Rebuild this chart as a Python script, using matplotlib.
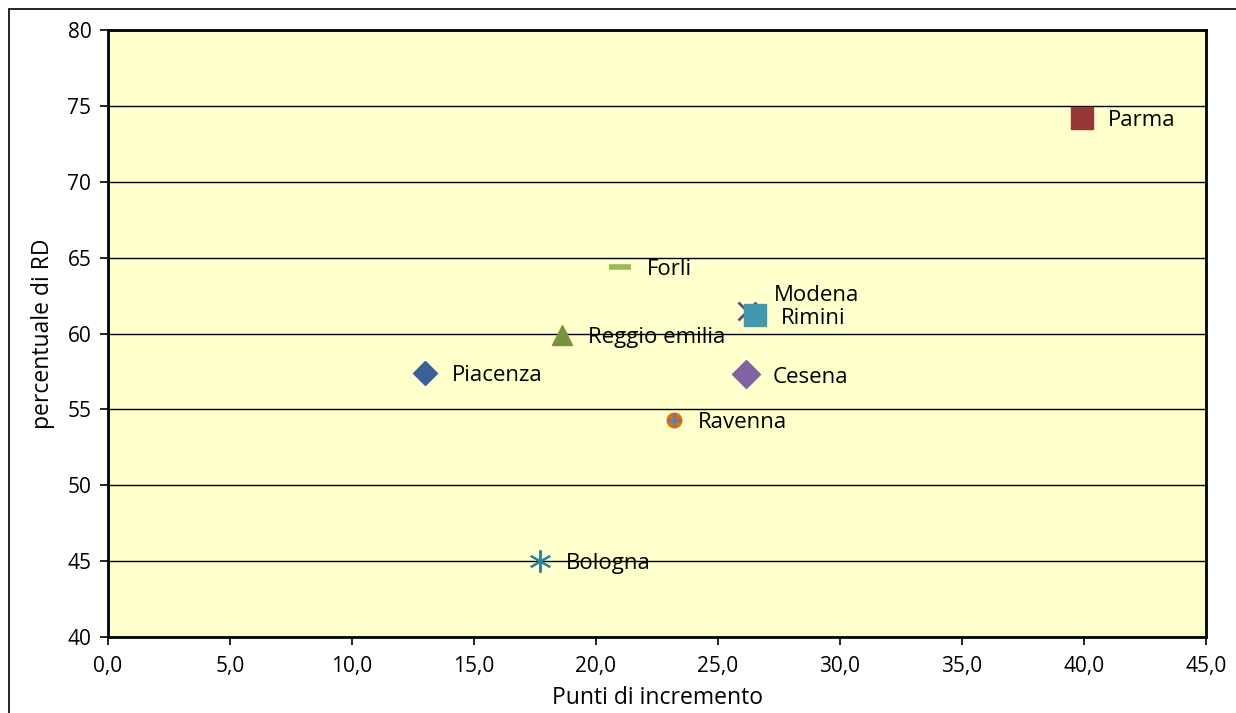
import matplotlib
matplotlib.use("Agg")
from matplotlib import pyplot as plt
from matplotlib.patches import Rectangle
from matplotlib.ticker import FuncFormatter

plt.rcParams['font.family'] = ['Open Sans', 'DejaVu Sans']

# province data
names = ["Piacenza", "Parma", "Reggio emilia", "Modena", "Rimini",
         "Cesena", "Ravenna", "Bologna", "Forli"]
incremento = [13.0, 39.9, 18.6, 26.2, 26.5, 26.15, 23.2, 17.7, 21.0]
perc_rd = [57.4, 74.2, 59.9, 61.5, 61.2, 57.3, 54.3, 45.0, 64.4]

colors = ["#3A6097", "#953735", "#77933C", "#604A7B", "#4198AF",
          "#8064A2", "#E46C0A", "#31859C", "#9BBB59"]
markers = ["D", "s", "^", "x", "s", "D", "o", (6, 2, 0), "_"]
sizes = [12, 16, 14, 13, 16, 14, 10.5, 16, 16]
label_off = [(19, -2), (19, -2), (19, -2), (19, 11), (19, -2),
             (19, -2), (17, -2), (19, -2), (19, -2)]

fig = plt.figure(figsize=(12.36, 7.13), dpi=100)
ax = fig.add_axes([108/1236, 1-637/713, 1098/1236, 607/713])
ax.set_facecolor("#FFFFCC")

for i in range(len(names)):
    m = markers[i]
    if m == "_":
        mew = 4
    elif m == "x":
        mew = 2
    elif isinstance(m, tuple):
        mew = 1.5
    else:
        mew = 1
    ax.plot(incremento[i], perc_rd[i], marker=m, color=colors[i],
            markersize=sizes[i], markeredgewidth=mew,
            markeredgecolor=colors[i], linestyle="none", zorder=3)
    if names[i] == "Ravenna":
        ax.plot(incremento[i], perc_rd[i], marker="+", color="#4F81BD",
                markersize=10, markeredgewidth=1.8, linestyle="none", zorder=4)
    ax.annotate(names[i], (incremento[i], perc_rd[i]), xytext=label_off[i],
                textcoords="offset points", ha="left", va="center",
                fontsize=16, color="black", zorder=5)

ax.set_xlim(0, 45)
ax.set_ylim(40, 80)
ax.set_xticks([0, 5, 10, 15, 20, 25, 30, 35, 40, 45])
ax.set_yticks([40, 45, 50, 55, 60, 65, 70, 75, 80])
ax.xaxis.set_major_formatter(FuncFormatter(lambda v, p: f"{v:.1f}".replace(".", ",")))
ax.grid(axis="y", color="black", linewidth=1)
ax.set_axisbelow(True)
for s in ax.spines.values():
    s.set_linewidth(2)
    s.set_color("black")
ax.tick_params(direction="out", length=6, width=1.2, labelsize=15, pad=6)
ax.tick_params(axis="x", pad=8)

ax.set_xlabel("Punti di incremento", fontsize=16.5, labelpad=6)
ax.set_ylabel("percentuale di RD", fontsize=16.5, labelpad=9)

fig.patches.append(Rectangle((8.5/1236, -0.1), 1.2, 1 - 8.5/713 + 0.1,
                             transform=fig.transFigure, fill=False,
                             edgecolor="black", linewidth=1.2))

plt.savefig("out.png", dpi=100)
